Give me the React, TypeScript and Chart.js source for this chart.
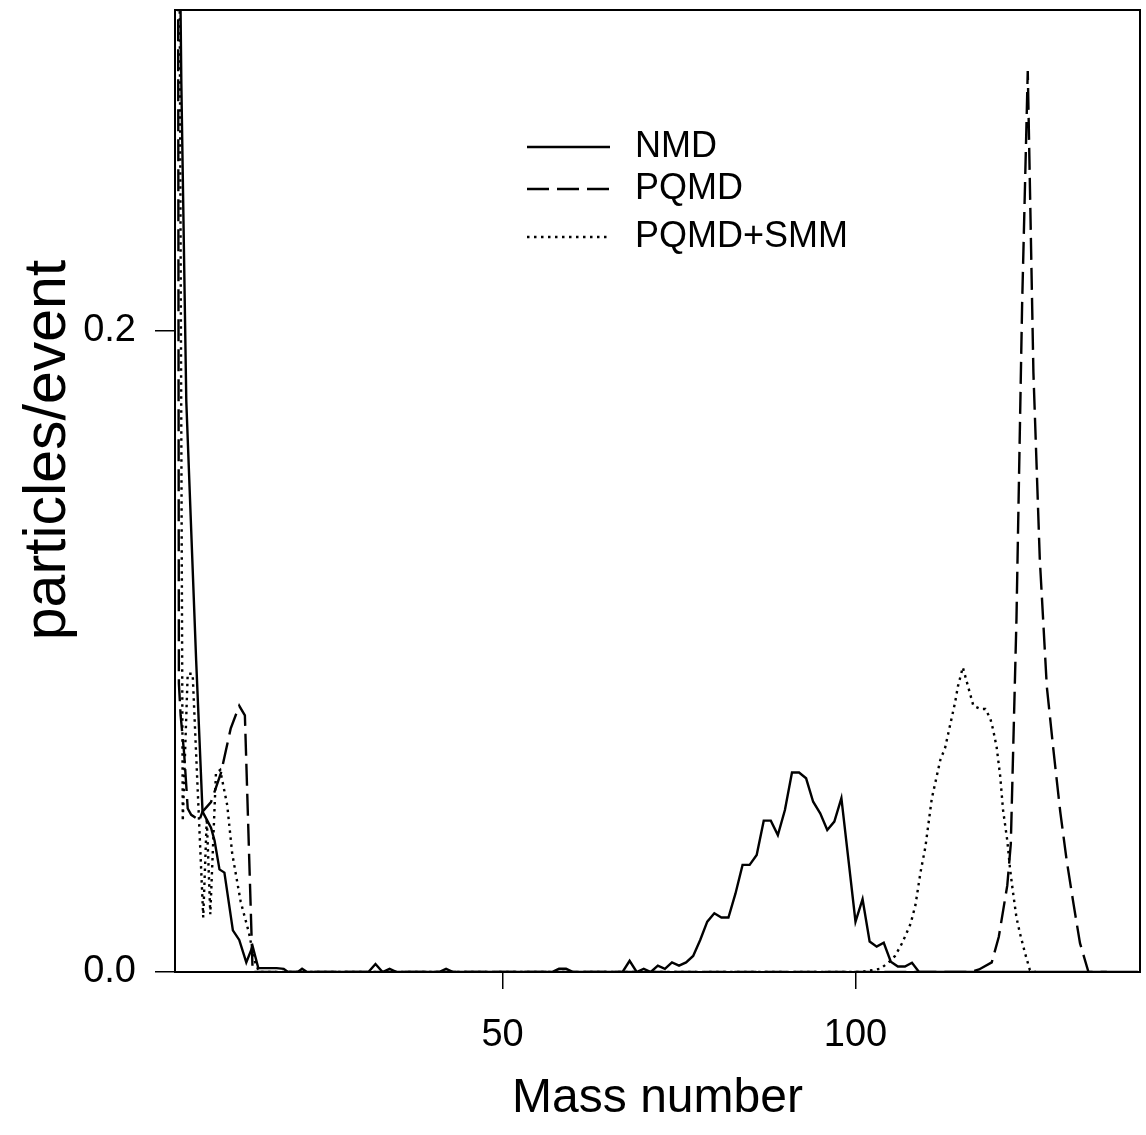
import React, { useEffect, useRef } from "react";
import { Chart, registerables } from "chart.js";

Chart.register(...registerables);

// ---------- data ----------
const seriesNames = ["NMD", "PQMD", "PQMD+SMM"];

const massNMD = [3.9, 4.5, 5.2, 6.6, 7.5, 8.7, 9.2, 9.9, 10.6, 11.8, 12.7, 13.7, 14.6, 15.4, 16, 17, 18, 19, 19.6, 21, 21.6, 22.3, 31, 32, 33, 34, 35, 41, 42, 43, 57, 58, 59, 60, 67, 68, 69, 70, 71, 72, 73, 74, 75, 76, 77, 78, 79, 80, 81, 82, 83, 84, 85, 86, 87, 88, 89, 90, 91, 92, 93, 94, 95, 96, 97, 98, 99, 100, 101, 102, 103, 104, 105, 106, 107, 108, 109, 140];
const valNMD = [0.4, 0.277, 0.178, 0.097, 0.05, 0.045, 0.041, 0.032, 0.031, 0.013, 0.01, 0.003, 0.008, 0.0012, 0.0012, 0.0012, 0.0012, 0.001, 0, 0, 0.001, 0, 0, 0.0025, 0, 0.001, 0, 0, 0.001, 0, 0, 0.001, 0.001, 0, 0, 0.0035, 0, 0.001, 0, 0.002, 0.001, 0.003, 0.002, 0.003, 0.005, 0.01, 0.0157, 0.0183, 0.017, 0.017, 0.0245, 0.0334, 0.0334, 0.0365, 0.0472, 0.0472, 0.0427, 0.0505, 0.0622, 0.0622, 0.0604, 0.0531, 0.0495, 0.0443, 0.0469, 0.0542, 0.035, 0.0157, 0.0227, 0.0095, 0.0079, 0.0091, 0.0032, 0.0017, 0.0017, 0.0029, 0, 0];

const massPQMD = [4.0, 4.15, 4.4, 4.9, 5.2, 5.4, 5.9, 6.6, 7.0, 7.5, 8.7, 10.1, 10.8, 11.5, 12.7, 13.5, 14.6, 116.3, 117.5, 119.3, 120.3, 121.5, 122.0, 122.8, 123.6, 124.4, 125.2, 126.1, 127.1, 128.0, 129.0, 129.9, 130.9, 131.8, 133.0, 135.6];
const valPQMD = [0.4, 0.09, 0.08, 0.068, 0.058, 0.051, 0.049, 0.048, 0.047, 0.05, 0.053, 0.062, 0.069, 0.076, 0.083, 0.08, 0, 0, 0.0008, 0.003, 0.011, 0.027, 0.04, 0.11, 0.208, 0.281, 0.187, 0.129, 0.089, 0.07, 0.05, 0.035, 0.021, 0.009, 0, 0];

const massSMM = [4.1, 4.7, 5.4, 6.1, 7.6, 8.1, 8.6, 9.4, 10.0, 11.0, 11.7, 12.9, 14.1, 14.8, 15.5, 100.7, 102.5, 103.5, 104.7, 105.6, 106.6, 107.8, 108.5, 109.2, 109.9, 110.8, 111.5, 112.0, 112.7, 113.4, 114.1, 114.5, 115.2, 115.7, 116.7, 117.7, 118.4, 119.1, 119.5, 120.0, 120.5, 120.9, 121.5, 121.9, 122.3, 122.8, 123.3, 124.0, 124.7, 125.5];
const valSMM = [0.4, 0.047, 0.093, 0.093, 0.017, 0.048, 0.018, 0.062, 0.063, 0.052, 0.037, 0.022, 0.012, 0.004, 0, 0, 0.0006, 0.001, 0.003, 0.005, 0.009, 0.015, 0.021, 0.031, 0.039, 0.054, 0.061, 0.066, 0.07, 0.077, 0.084, 0.089, 0.095, 0.091, 0.083, 0.082, 0.082, 0.079, 0.0755, 0.07, 0.061, 0.0505, 0.041, 0.032, 0.025, 0.017, 0.012, 0.006, 0.0006, 0];

const xTicks = [50, 100];
const yTicks = [0, 0.2];
const xRange = [3.6, 140.3];
const yRange = [0, 0.3];
const xTitle = "Mass number";
const yTitle = "particles/event";

// ---------- styling ----------
const FONT = '"Liberation Sans", Arial, Helvetica, sans-serif';
const W = 1146;
const H = 1135;
const AREA = { left: 175, top: 10, right: 1140, bottom: 972 };
const LEGEND_ROWS = [137, 179, 227]; // offsets from plot top
const LEGEND_LINE = [352, 435]; // offsets from plot left
const LEGEND_TEXT = 460;

function pts(xs: number[], ys: number[]) {
  return xs.map((x, i) => ({ x, y: ys[i] }));
}

export default function App() {
  const ref = useRef<HTMLCanvasElement>(null);

  useEffect(() => {
    if (!ref.current) return;

    const legendPlugin = {
      id: "insideLegend",
      afterDatasetsDraw(chart: any) {
        const { ctx, chartArea } = chart;
        ctx.save();
        chart.data.datasets.forEach((ds: any, i: number) => {
          const y = chartArea.top + LEGEND_ROWS[i];
          ctx.beginPath();
          ctx.setLineDash(ds.borderDash || []);
          ctx.lineWidth = ds.borderWidth;
          ctx.lineCap = "butt";
          ctx.strokeStyle = ds.borderColor;
          ctx.moveTo(chartArea.left + LEGEND_LINE[0], y);
          ctx.lineTo(chartArea.left + LEGEND_LINE[1], y);
          ctx.stroke();
          ctx.setLineDash([]);
          ctx.fillStyle = "#000";
          ctx.font = `36px ${FONT}`;
          ctx.textBaseline = "middle";
          ctx.textAlign = "left";
          ctx.fillText(ds.label, chartArea.left + LEGEND_TEXT, y);
        });
        ctx.restore();
      },
    };

    const framePlugin = {
      id: "frame",
      afterDraw(chart: any) {
        const { ctx, chartArea } = chart;
        ctx.save();
        ctx.strokeStyle = "#000";
        ctx.lineWidth = 2;
        ctx.strokeRect(chartArea.left, chartArea.top, chartArea.right - chartArea.left, chartArea.bottom - chartArea.top);
        // y axis title
        ctx.translate(49, 450);
        ctx.rotate(-Math.PI / 2);
        ctx.fillStyle = "#000";
        ctx.font = `59px ${FONT}`;
        ctx.textAlign = "center";
        ctx.textBaseline = "middle";
        ctx.fillText(yTitle, 0, 0);
        ctx.restore();
      },
    };

    const chart = new Chart(ref.current, {
      type: "line",
      data: {
        datasets: [
          {
            label: seriesNames[0],
            data: pts(massNMD, valNMD),
            borderColor: "#000",
            borderWidth: 2.4,
            borderDash: [],
            pointRadius: 0,
            tension: 0,
          },
          {
            label: seriesNames[1],
            data: pts(massPQMD, valPQMD),
            borderColor: "#000",
            borderWidth: 2.4,
            borderDash: [22, 8],
            pointRadius: 0,
            tension: 0,
          },
          {
            label: seriesNames[2],
            data: pts(massSMM, valSMM),
            borderColor: "#000",
            borderWidth: 2.4,
            borderDash: [2.5, 4.5],
            pointRadius: 0,
            tension: 0,
          },
        ],
      },
      options: {
        animation: false,
        responsive: false,
        maintainAspectRatio: false,
        layout: { padding: { left: 0, top: AREA.top, right: W - AREA.right, bottom: 0 } },
        plugins: { legend: { display: false }, tooltip: { enabled: false } },
        scales: {
          x: {
            type: "linear",
            min: xRange[0],
            max: xRange[1],
            afterBuildTicks: (s: any) => {
              s.ticks = xTicks.map((v) => ({ value: v }));
            },
            afterFit: (s: any) => {
              s.height = H - AREA.bottom;
              s.paddingLeft = 0;
              s.paddingRight = 0;
            },
            ticks: {
              color: "#000",
              font: { family: FONT, size: 38 },
              padding: 24,
              maxRotation: 0,
              callback: (v: any) => String(v),
            },
            grid: { drawOnChartArea: false, drawTicks: true, tickLength: 17, color: "#000", lineWidth: 1.5 },
            border: { display: true, color: "#000", width: 2 },
            title: { display: true, text: xTitle, color: "#000", font: { family: FONT, size: 48 }, padding: { top: 0, bottom: 7 } },
          },
          y: {
            type: "linear",
            min: yRange[0],
            max: yRange[1],
            afterBuildTicks: (s: any) => {
              s.ticks = yTicks.map((v) => ({ value: v }));
            },
            afterFit: (s: any) => {
              s.width = AREA.left;
              s.paddingTop = 0;
              s.paddingBottom = 0;
            },
            ticks: {
              color: "#000",
              font: { family: FONT, size: 38 },
              padding: 19,
              callback: (v: any) => Number(v).toFixed(1),
            },
            grid: { drawOnChartArea: false, drawTicks: true, tickLength: 20, color: "#000", lineWidth: 1.5 },
            border: { display: true, color: "#000", width: 2 },
            title: { display: false },
          },
        },
      },
      plugins: [legendPlugin, framePlugin],
    } as any);

    return () => chart.destroy();
  }, []);

  return (
    <div style={{ position: "absolute", left: 0, top: 0, width: W, height: H, background: "#fff" }}>
      <canvas ref={ref} width={W} height={H} style={{ width: W, height: H, display: "block" }} />
    </div>
  );
}
